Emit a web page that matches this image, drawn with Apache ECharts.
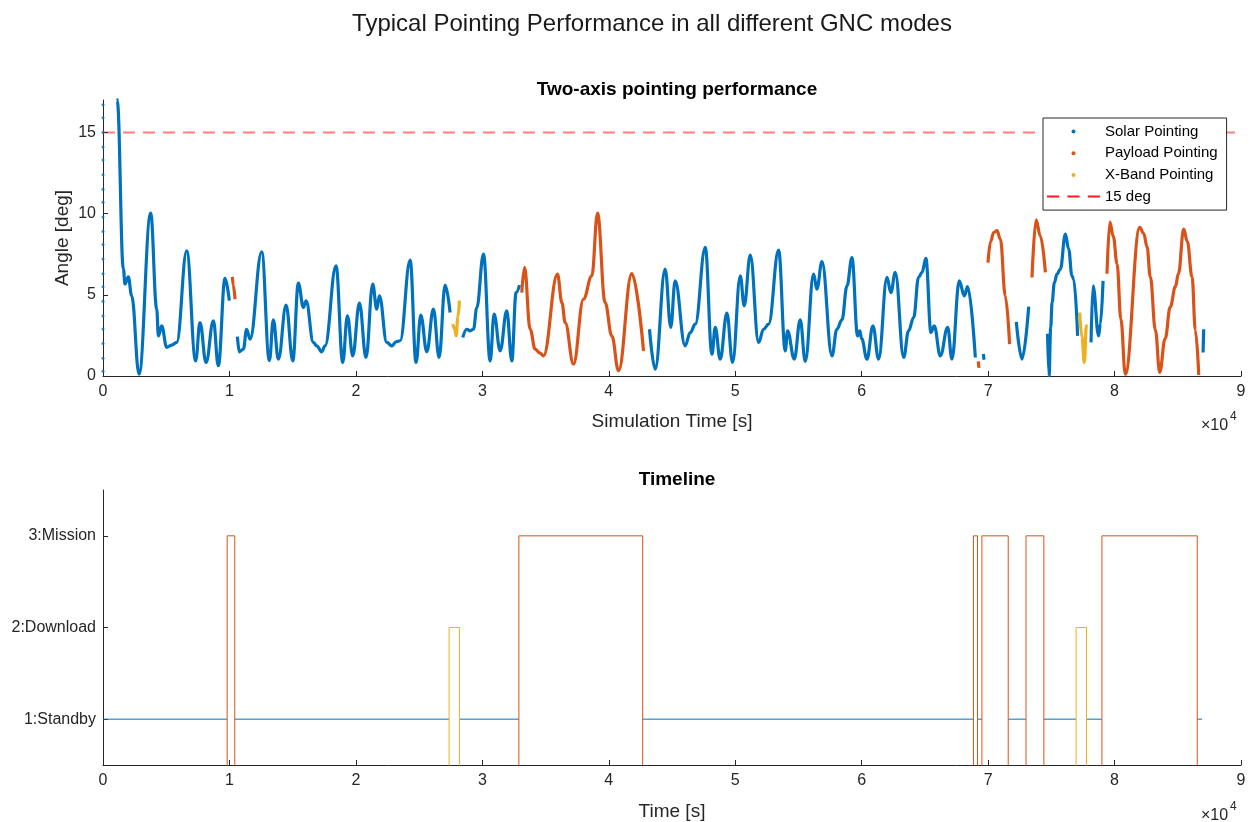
<!DOCTYPE html>
<html>
<head>
<meta charset="utf-8">
<script src="https://cdn.jsdelivr.net/npm/echarts@6/dist/echarts.min.js"></script>
<style>
  html, body { margin: 0; padding: 0; background: #fff; }
  #chart { width: 1254px; height: 822px; }
</style>
</head>
<body>
<div id="chart"></div>
<script>
// time in units of 1e4 s (axis reads x10^4), angle in deg
const solarSegments = [
  [[0.108, 19.0], [0.113, 16.95], [0.161, 6.6], [0.174, 5.66], [0.200, 6.11], [0.227, 4.94], [0.285, 0.11], [0.377, 10.03], [0.425, 4.12], [0.438, 2.47], [0.464, 3.09], [0.504, 1.76], [0.543, 1.90], [0.583, 2.07], [0.662, 7.71], [0.733, 0.93], [0.767, 3.29], [0.815, 0.83], [0.873, 3.40], [0.912, 0.63], [0.965, 6.01], [0.999, 4.64]],
  [[1.063, 2.43], [1.078, 1.49], [1.110, 1.65], [1.136, 2.88], [1.163, 2.27], [1.255, 7.65], [1.316, 0.95], [1.347, 3.46], [1.387, 1.04], [1.448, 4.36], [1.501, 0.93], [1.545, 5.72], [1.585, 4.22], [1.606, 4.63], [1.664, 2.07], [1.690, 1.86], [1.730, 1.49], [1.756, 1.86], [1.843, 6.79], [1.896, 0.83], [1.933, 3.71], [1.975, 1.24], [2.028, 4.49], [2.080, 1.14], [2.133, 5.66], [2.165, 4.12], [2.186, 4.94], [2.244, 2.07], [2.284, 1.86], [2.318, 2.11], [2.350, 2.17], [2.429, 7.14], [2.476, 0.83], [2.513, 3.75], [2.561, 1.49], [2.613, 4.12], [2.658, 1.14], [2.706, 5.60], [2.745, 3.91]],
  [[2.845, 2.37], [2.877, 2.88], [2.903, 2.78], [2.930, 2.88], [2.956, 4.2], [3.009, 7.51], [3.062, 0.93], [3.093, 3.81], [3.141, 1.55], [3.193, 4.01], [3.233, 0.93], [3.267, 5.14], [3.294, 5.60]],
  [[4.322, 2.88], [4.367, 0.42], [4.446, 6.58], [4.490, 3.0], [4.525, 5.86], [4.604, 1.86], [4.644, 2.67], [4.684, 3.19], [4.763, 7.92], [4.816, 1.34], [4.842, 2.99], [4.881, 1.04], [4.934, 3.87], [4.979, 0.83], [5.040, 6.17], [5.071, 4.32], [5.119, 7.44], [5.185, 2.07], [5.224, 2.88], [5.264, 3.19], [5.343, 7.75], [5.396, 1.55], [5.414, 2.78], [5.467, 1.04], [5.514, 3.46], [5.554, 0.90], [5.620, 6.27], [5.646, 5.35], [5.686, 7.05], [5.765, 1.24], [5.804, 2.88], [5.844, 3.46], [5.884, 5.55], [5.923, 7.30], [5.968, 2.47], [5.985, 2.78], [6.000, 2.3], [6.042, 1.04], [6.089, 3.09], [6.134, 1.04], [6.200, 6.07], [6.231, 5.14], [6.266, 6.38], [6.332, 1.14], [6.371, 2.78], [6.411, 3.60], [6.450, 6.07], [6.477, 6.38], [6.508, 7.24], [6.548, 2.68], [6.574, 3.09], [6.622, 1.24], [6.680, 2.99], [6.714, 1.04], [6.772, 5.86], [6.812, 4.94], [6.838, 5.51], [6.899, 1.14]],
  [[6.962, 1.35], [6.968, 1.0]],
  [[7.223, 3.34], [7.268, 1.04], [7.321, 4.28]],
  [[7.470, 2.6], [7.482, 0.0], [7.495, 3.0], [7.506, 4.53], [7.524, 5.76], [7.545, 6.27], [7.571, 6.58], [7.611, 8.74], [7.637, 7.82], [7.663, 6.17], [7.677, 5.97], [7.708, 2.47]],
  [[7.814, 2.07], [7.830, 5.55], [7.874, 2.47], [7.888, 3.2], [7.909, 5.86]],
  [[8.700, 1.45], [8.705, 2.88]]
];

const payloadSegments = [
  [[1.023, 6.11], [1.030, 5.6], [1.044, 4.74]],
  [[3.312, 5.14], [3.334, 6.69], [3.378, 2.88], [3.418, 1.65], [3.457, 1.41], [3.484, 1.24], [3.594, 6.27], [3.630, 4.5], [3.655, 3.29], [3.721, 0.73], [3.800, 4.74], [3.866, 6.17], [3.911, 10.03], [3.971, 4.53], [4.024, 2.47], [4.077, 0.32], [4.182, 6.31], [4.275, 1.55]],
  [[6.922, 0.9], [6.928, 0.5]],
  [[6.999, 6.99], [7.020, 8.3], [7.044, 8.84], [7.070, 8.95], [7.097, 8.43], [7.136, 4.94], [7.170, 1.96]],
  [[7.347, 6.07], [7.379, 9.62], [7.413, 8.64], [7.453, 6.38]],
  [[7.940, 6.3], [7.963, 9.48], [7.990, 8.6], [8.020, 6.9], [8.050, 3.5], [8.085, 0.11], [8.199, 9.15], [8.231, 8.77], [8.257, 7.95], [8.283, 6.1], [8.323, 2.83], [8.357, 0.22], [8.400, 2.3], [8.441, 4.26], [8.481, 5.5], [8.505, 6.3], [8.547, 9.05], [8.575, 8.3], [8.613, 6.1], [8.639, 2.83], [8.666, 0.06]]
];

const xbandSegments = [
  [[2.766, 3.19], [2.781, 2.9], [2.793, 2.47], [2.806, 3.6], [2.819, 4.64]],
  [[7.724, 3.91], [7.742, 2.4], [7.761, 0.83], [7.777, 3.09], [7.787, 3.09]]
];

// samples drawn on the y axis at t = 0
const initialSamples = [16.7, 15.9, 15.0, 14.1, 13.3, 12.4, 11.5, 10.7, 9.8, 8.9, 8.1, 7.2, 6.3, 5.5, 4.6, 3.7, 2.9, 2.0, 1.1, 0.3];

const limitDeg = 15;

// GNC mode timeline
const phaseStart = [0, 0.982, 1.042, 2.737, 2.819, 3.289, 4.268, 6.884, 6.916, 6.951, 7.159, 7.300, 7.441, 7.696, 7.778, 7.900, 8.654];
const phaseMode = [1, 3, 1, 2, 1, 3, 1, 3, 1, 3, 1, 3, 1, 2, 1, 3, 1];
const timelineEnd = 8.692;
const modeLabels = ['1:Standby', '2:Download', '3:Mission'];

const BLUE = '#0072BD', ORANGE = '#D95319', YELLOW = '#EDB120';
const FONT = '"Liberation Sans", Arial, Helvetica, sans-serif';
const AX = '#262626';

function joinSegments(segs) {
  const out = [];
  segs.forEach((s, i) => {
    if (i > 0) {
      const prev = segs[i - 1];
      out.push([(prev[prev.length - 1][0] + s[0][0]) / 2, null]);
    }
    out.push(...s);
  });
  return out;
}

function modeLine(mode) {
  const out = [];
  phaseStart.forEach((s, i) => {
    if (phaseMode[i] !== mode) return;
    const e = i + 1 < phaseStart.length ? phaseStart[i + 1] : timelineEnd;
    if (mode === 1) {
      out.push([s, 1], [e, 1], [e, null]);
    } else {
      out.push([s, 0], [s, mode], [e, mode], [e, 0]);
    }
  });
  return out;
}

function axisCommon() {
  return {
    axisLine: { lineStyle: { color: AX, width: 1 } },
    axisTick: { inside: true, length: 5, lineStyle: { color: AX } },
    axisLabel: { color: AX, fontSize: 16, fontFamily: FONT },
    splitLine: { show: false },
    nameTextStyle: { color: AX, fontSize: 19, fontFamily: FONT }
  };
}

const chart = echarts.init(document.getElementById('chart'));

const option = {
  animation: false,
  backgroundColor: '#fff',
  title: [
    { text: 'Typical Pointing Performance in all different GNC modes', left: 647, top: 7, textAlign: 'center',
      textStyle: { fontSize: 24, fontWeight: 'normal', color: '#1a1a1a', fontFamily: FONT } },
    { text: 'Two-axis pointing performance', left: 672, top: 75, textAlign: 'center',
      textStyle: { fontSize: 19, fontWeight: 'bold', color: '#000', fontFamily: FONT } },
    { text: 'Timeline', left: 672, top: 465, textAlign: 'center',
      textStyle: { fontSize: 19, fontWeight: 'bold', color: '#000', fontFamily: FONT } }
  ],
  legend: {
    orient: 'vertical',
    left: 1043, top: 118,
    padding: [5, 9, 5, 4],
    itemGap: 4.7,
    itemWidth: 53, itemHeight: 4,
    itemTextGap: 4,
    borderColor: AX, borderWidth: 1, borderRadius: 0,
    backgroundColor: '#fff',
    selectedMode: false,
    textStyle: { fontSize: 15, color: '#000', fontFamily: FONT, lineHeight: 17 },
    data: [
      { name: 'Solar Pointing', icon: 'circle' },
      { name: 'Payload Pointing', icon: 'circle' },
      { name: 'X-Band Pointing', icon: 'circle' },
      { name: '15 deg', icon: 'path://M0,0H12V2H0Z M20,0H32V2H20Z M40,0H52V2H40Z',
        itemStyle: { color: '#ff1a1a' } }
    ]
  },
  grid: [
    { left: 103, right: 13, top: 100, height: 276 },
    { left: 103, right: 13, top: 490, height: 276 }
  ],
  xAxis: [
    Object.assign(axisCommon(), { type: 'value', gridIndex: 0, min: 0, max: 9, interval: 1,
      name: 'Simulation Time [s]', nameLocation: 'middle', nameGap: 36 }),
    Object.assign(axisCommon(), { type: 'value', gridIndex: 1, min: 0, max: 9, interval: 1,
      name: 'Time [s]', nameLocation: 'middle', nameGap: 37 })
  ],
  yAxis: [
    (function () {
      const a = axisCommon();
      a.axisLabel.customValues = [0, 5, 10, 15];
      a.axisTick.customValues = [0, 5, 10, 15];
      a.axisLabel.margin = 7;
      return Object.assign(a, { type: 'value', gridIndex: 0, min: 0, max: 17, interval: 5,
        name: 'Angle [deg]', nameLocation: 'middle', nameGap: 31, nameMoveOverlap: false });
    })(),
    (function () {
      const a = axisCommon();
      a.axisLabel.customValues = [1, 2, 3];
      a.axisTick.customValues = [1, 2, 3];
      a.axisLabel.margin = 7;
      a.axisLabel.formatter = v => modeLabels[Math.round(v) - 1] || '';
      return Object.assign(a, { type: 'value', gridIndex: 1, min: 0.5, max: 3.5 });
    })()
  ],
  graphic: [
    { type: 'text', left: 1201, top: 418, style: { text: '×10', fill: AX, font: '16px ' + FONT } },
    { type: 'text', left: 1230, top: 411, style: { text: '4', fill: AX, font: '12px ' + FONT } },
    { type: 'text', left: 1201, top: 808, style: { text: '×10', fill: AX, font: '16px ' + FONT } },
    { type: 'text', left: 1230, top: 801, style: { text: '4', fill: AX, font: '12px ' + FONT } }
  ],
  series: [
    { name: '15 deg', type: 'line', xAxisIndex: 0, yAxisIndex: 0, data: [[0, limitDeg], [9, limitDeg]],
      symbol: 'none', lineStyle: { color: 'rgba(255,0,0,0.5)', width: 2, type: [12, 8] },
      itemStyle: { color: '#ff1a1a' }, z: 2 },
    { name: 'Solar Pointing', type: 'line', xAxisIndex: 0, yAxisIndex: 0, data: joinSegments(solarSegments),
      symbol: 'none', smooth: 0.4, smoothMonotone: 'x', lineStyle: { color: BLUE, width: 3.2 },
      itemStyle: { color: BLUE }, z: 3 },
    { name: 'Payload Pointing', type: 'line', xAxisIndex: 0, yAxisIndex: 0, data: joinSegments(payloadSegments),
      symbol: 'none', smooth: 0.4, smoothMonotone: 'x', lineStyle: { color: ORANGE, width: 3.2 },
      itemStyle: { color: ORANGE }, z: 3 },
    { name: 'X-Band Pointing', type: 'line', xAxisIndex: 0, yAxisIndex: 0, data: joinSegments(xbandSegments),
      symbol: 'none', smooth: 0.4, smoothMonotone: 'x', lineStyle: { color: YELLOW, width: 3.2 },
      itemStyle: { color: YELLOW }, z: 3 },
    { name: 'Solar Pointing', type: 'scatter', xAxisIndex: 0, yAxisIndex: 0,
      data: initialSamples.map(v => [0, v]), symbolSize: 3, itemStyle: { color: BLUE }, z: 4 },
    { name: 'Standby', type: 'line', xAxisIndex: 1, yAxisIndex: 1, data: modeLine(1),
      symbol: 'none', lineStyle: { color: BLUE, width: 1 } },
    { name: 'Download', type: 'line', xAxisIndex: 1, yAxisIndex: 1, data: modeLine(2),
      symbol: 'none', lineStyle: { color: YELLOW, width: 1 } },
    { name: 'Mission', type: 'line', xAxisIndex: 1, yAxisIndex: 1, data: modeLine(3),
      symbol: 'none', lineStyle: { color: ORANGE, width: 1 } }
  ]
};

chart.setOption(option);
</script>
</body>
</html>
